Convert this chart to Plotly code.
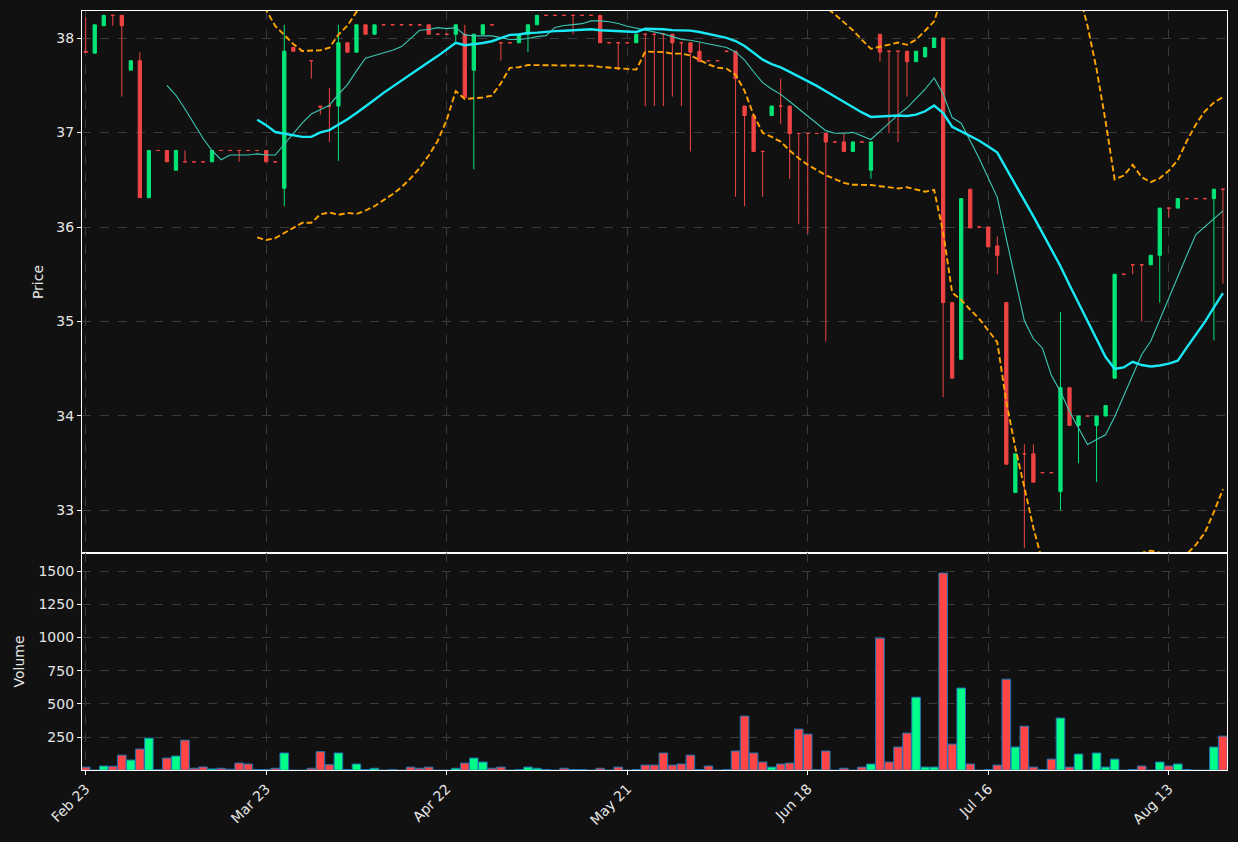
import plotly.graph_objects as go
import pandas as pd

# ---- data (one entry per trading bar) ----
opens = [
    37.86, 37.84, 38.13, 38.24, 38.24, 37.66, 37.76, 36.31, 36.81, 36.81,
    36.60, 36.69, 36.69, 36.69, 36.69, 36.81, 36.81, 36.81, 36.81, 36.81,
    36.81, 36.69, 36.41, 37.90, 37.86, 37.76, 37.28, 37.28, 37.28, 37.95,
    37.85, 38.14, 38.04, 38.14, 38.14, 38.14, 38.14, 38.14, 38.14, 38.04,
    38.04, 38.04, 38.04, 37.66, 38.04, 38.14, 37.95, 37.95, 37.95, 38.04,
    38.14, 38.24, 38.24, 38.24, 38.24, 38.24, 38.24, 38.24, 37.95, 37.95,
    37.95, 37.95, 38.04, 38.04, 38.04, 38.04, 37.95, 37.95, 37.86, 37.76,
    37.76, 37.86, 37.86, 37.28, 37.18, 36.80, 37.18, 37.28, 37.28, 36.99,
    36.99, 36.99, 36.99, 36.90, 36.90, 36.80, 36.90, 36.60, 38.04, 37.86,
    37.86, 37.86, 37.75, 37.80, 37.90, 38.00, 35.20, 34.60, 36.40, 36.00,
    36.00, 35.80, 35.20, 33.19, 33.60, 33.60, 33.40, 33.40, 33.20, 34.30,
    33.90, 34.00, 33.90, 34.00, 34.40, 35.50, 35.60, 35.60, 35.60, 35.70,
    36.20, 36.20, 36.30, 36.30, 36.30, 36.30, 36.40,
]
highs = [
    38.22, 38.14, 38.24, 38.24, 38.24, 37.76, 37.85, 36.81, 36.81, 36.81,
    36.81, 36.81, 36.69, 36.69, 36.81, 36.81, 36.81, 36.81, 36.81, 36.81,
    36.81, 36.69, 38.14, 37.91, 37.86, 37.76, 37.28, 37.47, 38.14, 37.95,
    38.14, 38.14, 38.14, 38.14, 38.14, 38.14, 38.14, 38.14, 38.14, 38.04,
    38.04, 38.14, 38.14, 38.04, 38.14, 38.14, 37.95, 37.95, 38.04, 38.14,
    38.24, 38.24, 38.24, 38.24, 38.24, 38.24, 38.24, 38.24, 37.95, 37.95,
    37.95, 38.04, 38.04, 38.04, 38.04, 38.04, 37.95, 37.95, 37.95, 37.76,
    37.76, 37.86, 37.86, 37.28, 37.18, 36.80, 37.28, 37.57, 37.28, 36.99,
    36.99, 36.99, 36.99, 36.90, 36.99, 36.90, 36.90, 36.90, 38.04, 37.86,
    37.86, 37.86, 37.86, 37.90, 38.00, 38.00, 35.20, 36.30, 36.40, 36.00,
    36.00, 35.90, 35.20, 33.60, 33.70, 33.70, 33.40, 33.40, 35.10, 34.30,
    34.00, 34.00, 34.00, 34.11, 35.50, 35.50, 35.60, 35.60, 35.70, 36.20,
    36.20, 36.30, 36.30, 36.30, 36.30, 36.40, 36.40,
]
lows = [
    37.85, 37.84, 38.13, 38.13, 37.38, 37.66, 36.31, 36.31, 36.81, 36.69,
    36.60, 36.69, 36.69, 36.69, 36.69, 36.81, 36.81, 36.69, 36.81, 36.81,
    36.69, 36.69, 36.22, 37.86, 37.86, 37.57, 37.19, 36.90, 36.70, 37.85,
    37.85, 38.04, 38.04, 38.14, 38.14, 38.14, 38.14, 38.14, 38.04, 38.04,
    38.04, 37.95, 37.37, 36.61, 38.04, 38.14, 37.76, 37.95, 37.95, 37.85,
    38.14, 38.24, 38.24, 38.24, 38.04, 38.24, 38.24, 37.95, 37.95, 37.66,
    37.95, 37.95, 37.28, 37.28, 37.28, 37.38, 37.28, 36.80, 37.75, 37.76,
    37.76, 37.86, 36.32, 36.22, 36.80, 36.32, 37.18, 37.09, 36.51, 36.03,
    35.93, 36.99, 34.79, 36.90, 36.80, 36.80, 36.90, 36.51, 37.75, 36.99,
    36.90, 37.38, 37.75, 37.80, 37.90, 34.20, 34.40, 34.60, 35.99, 36.00,
    35.79, 35.50, 33.49, 33.19, 32.60, 33.30, 33.40, 33.40, 33.00, 33.90,
    33.50, 34.00, 33.30, 34.00, 34.40, 35.50, 35.50, 35.00, 35.60, 35.20,
    36.10, 36.20, 36.30, 36.30, 36.30, 34.80, 35.40,
]
closes = [
    37.85, 38.14, 38.24, 38.24, 38.13, 37.76, 36.31, 36.81, 36.81, 36.69,
    36.81, 36.69, 36.69, 36.69, 36.81, 36.81, 36.81, 36.81, 36.81, 36.81,
    36.69, 36.69, 37.86, 37.86, 37.86, 37.76, 37.27, 37.28, 37.95, 37.85,
    38.14, 38.04, 38.14, 38.14, 38.14, 38.14, 38.14, 38.14, 38.04, 38.04,
    38.04, 38.14, 37.37, 38.04, 38.14, 38.14, 37.95, 37.95, 38.04, 38.14,
    38.24, 38.24, 38.24, 38.24, 38.24, 38.24, 38.24, 37.95, 37.95, 37.95,
    37.95, 38.04, 38.04, 38.04, 38.04, 37.95, 37.95, 37.85, 37.75, 37.76,
    37.76, 37.86, 37.57, 37.18, 36.80, 36.80, 37.28, 37.28, 36.99, 36.99,
    36.99, 36.99, 36.90, 36.90, 36.80, 36.90, 36.90, 36.90, 37.85, 37.86,
    37.86, 37.75, 37.86, 37.90, 38.00, 35.20, 34.40, 36.30, 35.99, 36.00,
    35.79, 35.70, 33.49, 33.60, 33.60, 33.30, 33.40, 33.40, 34.30, 33.90,
    34.00, 34.00, 34.00, 34.11, 35.50, 35.50, 35.60, 35.60, 35.70, 36.20,
    36.20, 36.30, 36.30, 36.30, 36.30, 36.40, 36.40,
]
volumes = [
    24, 0, 32, 30, 114, 77, 160, 242, 5, 92,
    107, 227, 15, 25, 10, 15, 8, 54, 47, 6,
    6, 15, 130, 0, 0, 15, 140, 42, 130, 6,
    47, 6, 15, 0, 6, 0, 24, 15, 24, 0,
    0, 15, 54, 92, 62, 15, 24, 0, 6, 24,
    15, 6, 0, 15, 6, 6, 0, 15, 0, 24,
    0, 6, 39, 39, 130, 39, 47, 114, 6, 32,
    0, 6, 145, 408, 130, 62, 24, 47, 54, 310,
    272, 4, 145, 0, 15, 0, 24, 47, 995, 62,
    175, 280, 550, 24, 24, 1485, 197, 619, 47, 0,
    6, 39, 686, 175, 332, 24, 6, 84, 393, 24,
    122, 0, 130, 24, 84, 0, 6, 32, 0, 62,
    32, 47, 6, 0, 0, 175, 257,
]
tick_pos = [0, 20, 40, 60, 80, 100, 120]
tick_labels = ["Feb 23", "Mar 23", "Apr 22", "May 21", "Jun 18", "Jul 16", "Aug 13"]

# ---- derived indicators (computed from the closes) ----
idx = list(range(len(closes)))
cs = pd.Series(closes)
ma10 = cs.rolling(10).mean()
ma20 = cs.rolling(20).mean()
sd20 = cs.rolling(20).std(ddof=0)
upper = ma20 + 2 * sd20
lower = ma20 - 2 * sd20

GREEN = "#00e676"
RED = "#ef4444"
VGREEN = "#00ff88"
VRED = "#ff4545"
BG = "#111111"
GRID = "#3a3a3a"
TXT = "#e6e6e6"

up = [c > o for o, c in zip(opens, closes)]
dn = [not u for u in up]


def pick(vals, mask):
    return [v if m else None for v, m in zip(vals, mask)]


fig = go.Figure()
for mask, col in ((up, GREEN), (dn, RED)):
    fig.add_trace(go.Candlestick(
        x=idx,
        open=pick(opens, mask), high=pick(highs, mask),
        low=pick(lows, mask), close=pick(closes, mask),
        increasing=dict(line=dict(color=col, width=1), fillcolor=col),
        decreasing=dict(line=dict(color=col, width=1), fillcolor=col),
        xaxis="x", yaxis="y", showlegend=False, hoverinfo="skip",
    ))

fig.add_trace(go.Scatter(x=idx, y=ma10, mode="lines",
                         line=dict(color="#3cc8b4", width=1.1),
                         xaxis="x", yaxis="y", showlegend=False))
fig.add_trace(go.Scatter(x=idx, y=ma20, mode="lines",
                         line=dict(color="#19e8f5", width=2.4),
                         xaxis="x", yaxis="y", showlegend=False))
for band in (upper, lower):
    fig.add_trace(go.Scatter(x=idx, y=band, mode="lines",
                             line=dict(color="#ffa500", width=1.9, dash="6px,3px"),
                             xaxis="x", yaxis="y", showlegend=False))

vcol = [VGREEN if u else VRED for u in up]
fig.add_trace(go.Bar(x=idx, y=volumes, marker=dict(color=vcol, line=dict(color="#1f77b4", width=1)),
                     width=0.95, xaxis="x2", yaxis="y2", showlegend=False))

vol_h = 217 / 759
XR = [-0.41, 126.45]
axis_common = dict(showline=True, linecolor="white", linewidth=1.2, mirror=True,
                   showgrid=True, gridcolor=GRID, griddash="dash", gridwidth=1,
                   zeroline=False, tickfont=dict(color=TXT, size=14, family="DejaVu Sans"),
                   tickcolor="white", ticklen=4)

fig.update_layout(
    width=1238, height=842,
    paper_bgcolor=BG, plot_bgcolor=BG,
    margin=dict(l=82, r=11, t=11, b=72),
    boxgap=0.48,
    bargap=0.05,
    font=dict(family="DejaVu Sans", color=TXT, size=14),
    xaxis=dict(domain=[0, 1], anchor="y", range=XR,
               tickvals=tick_pos, ticktext=tick_labels, showticklabels=False, ticks="",
               rangeslider=dict(visible=False), **axis_common),
    yaxis=dict(domain=[vol_h, 1], anchor="x", range=[32.55, 38.286],
               tickvals=[33, 34, 35, 36, 37, 38], ticks="outside",
               title=dict(text="Price", standoff=9, font=dict(size=14, color=TXT)),
               **axis_common),
    xaxis2=dict(domain=[0, 1], anchor="y2", matches="x", range=XR,
                tickvals=tick_pos, ticktext=tick_labels, tickangle=-45, ticks="outside",
                **axis_common),
    yaxis2=dict(domain=[0, vol_h], anchor="x2", range=[2, 1636],
                tickvals=[250, 500, 750, 1000, 1250, 1500], ticks="outside",
                title=dict(text="Volume", standoff=10, font=dict(size=14, color=TXT)),
                **axis_common),
)

fig.write_html("out.html", config={"displayModeBar": False},
               post_script="document.body.style.margin='0';document.body.style.background='#111111';")
